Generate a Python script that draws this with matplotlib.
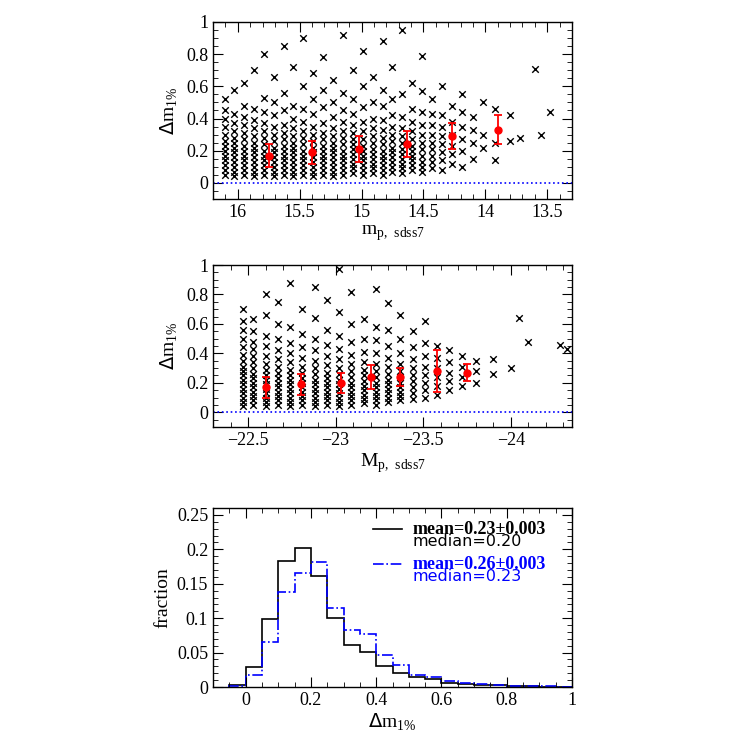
import numpy as np
import matplotlib
matplotlib.use("Agg")
import matplotlib.pyplot as plt
from matplotlib.ticker import MultipleLocator

plt.rcParams['font.family'] = ['Liberation Serif', 'DejaVu Serif']

# ---- panel 1 scatter: apparent magnitude vs dm (columns of x with y values)
app_cols = {
16.10: "0.05 0.08 0.11 0.14 0.17 0.20 0.23 0.26 0.30 0.35 0.40 0.45 0.52",
16.03: "0.04 0.07 0.10 0.13 0.16 0.19 0.22 0.25 0.28 0.32 0.37 0.43 0.58",
15.95: "0.05 0.08 0.11 0.14 0.17 0.20 0.23 0.27 0.31 0.36 0.41 0.48 0.62",
15.87: "0.04 0.07 0.10 0.13 0.16 0.19 0.22 0.25 0.29 0.34 0.39 0.46 0.70",
15.79: "0.05 0.08 0.11 0.14 0.17 0.20 0.24 0.28 0.32 0.37 0.44 0.53 0.80",
15.71: "0.04 0.07 0.10 0.13 0.16 0.19 0.22 0.26 0.30 0.35 0.42 0.50 0.66",
15.63: "0.05 0.08 0.11 0.14 0.17 0.20 0.23 0.27 0.31 0.36 0.45 0.56 0.85",
15.55: "0.04 0.07 0.10 0.13 0.16 0.19 0.22 0.25 0.29 0.34 0.40 0.48 0.72",
15.47: "0.05 0.08 0.11 0.14 0.17 0.20 0.24 0.28 0.32 0.38 0.46 0.60 0.90",
15.39: "0.04 0.07 0.10 0.13 0.16 0.19 0.22 0.26 0.30 0.35 0.43 0.52 0.68",
15.31: "0.05 0.08 0.11 0.14 0.17 0.20 0.23 0.27 0.31 0.37 0.47 0.58 0.78",
15.23: "0.04 0.07 0.10 0.13 0.16 0.19 0.22 0.25 0.29 0.34 0.41 0.50 0.64",
15.15: "0.05 0.08 0.11 0.14 0.17 0.20 0.24 0.28 0.32 0.38 0.45 0.56 0.92",
15.07: "0.06 0.09 0.12 0.15 0.18 0.21 0.24 0.27 0.31 0.36 0.43 0.52 0.70",
14.99: "0.05 0.08 0.11 0.14 0.17 0.20 0.23 0.27 0.32 0.38 0.47 0.60 0.82",
14.91: "0.06 0.09 0.12 0.15 0.18 0.21 0.25 0.29 0.34 0.40 0.50 0.66",
14.83: "0.05 0.08 0.11 0.14 0.17 0.20 0.24 0.28 0.33 0.39 0.48 0.58 0.88",
14.75: "0.07 0.10 0.13 0.16 0.19 0.22 0.26 0.30 0.35 0.42 0.52 0.72",
14.67: "0.06 0.09 0.12 0.15 0.18 0.21 0.25 0.29 0.34 0.41 0.55 0.95",
14.59: "0.08 0.11 0.14 0.17 0.20 0.23 0.27 0.32 0.38 0.46 0.62",
14.51: "0.07 0.10 0.13 0.17 0.21 0.25 0.30 0.36 0.44 0.57 0.79",
14.43: "0.09 0.13 0.17 0.21 0.25 0.30 0.36 0.43 0.52",
14.35: "0.08 0.14 0.19 0.24 0.29 0.35 0.42 0.60",
14.27: "0.12 0.18 0.23 0.30 0.38 0.48",
14.19: "0.10 0.20 0.27 0.35 0.44 0.55",
14.10: "0.15 0.25 0.33 0.41",
14.02: "0.22 0.30 0.50",
13.92: "0.14 0.25 0.46",
13.80: "0.26 0.42",
13.72: "0.28",
13.55: "0.30",
13.48: "0.44",
13.60: "0.71",
}
app_x = [x for x, s in app_cols.items() for _ in s.split()]
app_y = [float(v) for s in app_cols.values() for v in s.split()]

app_bin_x = [15.75, 15.4, 15.02, 14.63, 14.27, 13.9]
app_bin_y = [0.17, 0.19, 0.21, 0.24, 0.29, 0.33]
app_bin_e = [0.07, 0.07, 0.08, 0.08, 0.08, 0.09]

# ---- panel 2 scatter: absolute magnitude vs dm
abs_cols = {
-22.47: "0.04 0.07 0.10 0.13 0.16 0.19 0.22 0.25 0.28 0.31 0.35 0.39 0.44 0.50 0.56 0.62 0.70",
-22.53: "0.05 0.08 0.11 0.14 0.17 0.20 0.23 0.26 0.30 0.34 0.38 0.43 0.48 0.55 0.63",
-22.60: "0.04 0.07 0.10 0.13 0.16 0.19 0.22 0.25 0.29 0.33 0.38 0.45 0.52 0.66 0.80",
-22.67: "0.05 0.08 0.11 0.14 0.17 0.20 0.23 0.27 0.31 0.36 0.42 0.50 0.60 0.75",
-22.74: "0.04 0.07 0.10 0.13 0.16 0.19 0.22 0.25 0.29 0.34 0.40 0.47 0.58 0.88",
-22.81: "0.05 0.08 0.11 0.14 0.17 0.20 0.23 0.27 0.31 0.37 0.44 0.53 0.70",
-22.88: "0.04 0.07 0.10 0.13 0.16 0.19 0.22 0.26 0.30 0.35 0.42 0.50 0.64 0.85",
-22.95: "0.05 0.08 0.11 0.14 0.17 0.20 0.23 0.27 0.32 0.38 0.46 0.56 0.76",
-23.02: "0.04 0.07 0.10 0.13 0.16 0.19 0.22 0.26 0.30 0.36 0.43 0.52 0.68 0.97",
-23.09: "0.05 0.08 0.11 0.14 0.17 0.20 0.24 0.28 0.33 0.39 0.48 0.60 0.82",
-23.16: "0.06 0.09 0.12 0.15 0.18 0.21 0.25 0.29 0.34 0.41 0.50 0.63",
-23.23: "0.05 0.08 0.11 0.14 0.17 0.20 0.24 0.28 0.33 0.40 0.49 0.58 0.84",
-23.30: "0.07 0.10 0.13 0.16 0.19 0.22 0.26 0.31 0.37 0.45 0.56 0.74",
-23.37: "0.08 0.11 0.14 0.17 0.20 0.24 0.28 0.33 0.40 0.50 0.66",
-23.44: "0.09 0.13 0.17 0.21 0.25 0.30 0.36 0.44 0.55",
-23.51: "0.10 0.15 0.20 0.25 0.31 0.38 0.47 0.62",
-23.58: "0.12 0.18 0.24 0.30 0.37 0.45",
-23.65: "0.15 0.21 0.27 0.34 0.42",
-23.72: "0.18 0.24 0.31 0.38",
-23.80: "0.20 0.28 0.35",
-23.90: "0.26 0.36",
-24.00: "0.30",
-24.05: "0.64",
-24.10: "0.48",
-24.28: "0.46",
-24.32: "0.43",
}
abs_x = [x for x, s in abs_cols.items() for _ in s.split()]
abs_y = [float(v) for s in abs_cols.values() for v in s.split()]

abs_bin_x = [-22.6, -22.8, -23.03, -23.2, -23.37, -23.58, -23.75]
abs_bin_y = [0.17, 0.19, 0.20, 0.24, 0.24, 0.28, 0.27]
abs_bin_e = [0.07, 0.07, 0.07, 0.08, 0.06, 0.14, 0.06]

# ---- panel 3 histograms (bin width 0.05 from -0.05)
bin_edges = [round(-0.05 + 0.05 * i, 2) for i in range(22)]
frac_black = [0.003, 0.029, 0.099, 0.183, 0.202, 0.161, 0.100, 0.061, 0.051, 0.031, 0.021,
              0.015, 0.011, 0.006, 0.004, 0.0025, 0.0025, 0.001, 0.001, 0.0005, 0.0005]
frac_blue = [0.001, 0.018, 0.066, 0.138, 0.166, 0.181, 0.115, 0.083, 0.077, 0.046, 0.032,
             0.017, 0.015, 0.008, 0.006, 0.004, 0.003, 0.002, 0.001, 0.001, 0.0005]

W = H = 747
fig = plt.figure(figsize=(W / 100, H / 100), dpi=100)

def ax_at(l, t, r, b):
    return fig.add_axes([l / W, 1 - b / H, (r - l) / W, (b - t) / H])

def style(ax):
    ax.tick_params(which='both', direction='in', top=True, right=True, labelsize=13)
    ax.tick_params(which='major', length=7)
    ax.tick_params(which='minor', length=3.5)
    for s in ax.spines.values():
        s.set_linewidth(1)

ax1 = ax_at(213, 22, 572, 199)
ax1.scatter(app_x, app_y, marker='x', s=22, c='k', lw=1.0)
ax1.errorbar(app_bin_x, app_bin_y, yerr=app_bin_e, fmt='o', color='red', ms=5, capsize=3, elinewidth=1.3, capthick=1.3)
ax1.axhline(0, color='blue', ls=':', lw=1.2)
ax1.set_xlim(16.2, 13.3)
ax1.set_ylim(-0.1, 1.0)
ax1.xaxis.set_minor_locator(MultipleLocator(0.1))
ax1.yaxis.set_minor_locator(MultipleLocator(0.05))
ax1.set_xticks([16, 15.5, 15, 14.5, 14, 13.5])
ax1.set_xticklabels(['16', '15.5', '15', '14.5', '14', '13.5'])
ax1.set_yticks([0, 0.2, 0.4, 0.6, 0.8, 1])
ax1.set_yticklabels(['0', '0.2', '0.4', '0.6', '0.8', '1'])
ax1.set_xlabel(r'm$_{\mathregular{p,\ sdss7}}$', fontsize=14, labelpad=2)
ax1.set_ylabel(r'$\Delta$m$_{\mathregular{1\%}}$', fontsize=14)
style(ax1)

ax2 = ax_at(213, 265, 572, 427)
ax2.scatter(abs_x, abs_y, marker='x', s=22, c='k', lw=1.0)
ax2.errorbar(abs_bin_x, abs_bin_y, yerr=abs_bin_e, fmt='o', color='red', ms=5, capsize=3, elinewidth=1.3, capthick=1.3)
ax2.axhline(0, color='blue', ls=':', lw=1.2)
ax2.set_xlim(-22.3, -24.35)
ax2.set_ylim(-0.1, 1.0)
ax2.set_xticks([-22.5, -23, -23.5, -24])
ax2.set_xticklabels(['\u221222.5', '\u221223', '\u221223.5', '\u221224'])
ax2.xaxis.set_minor_locator(MultipleLocator(0.1))
ax2.set_yticks([0, 0.2, 0.4, 0.6, 0.8, 1])
ax2.set_yticklabels(['0', '0.2', '0.4', '0.6', '0.8', '1'])
ax2.yaxis.set_minor_locator(MultipleLocator(0.05))
ax2.set_xlabel(r'M$_{\mathregular{p,\ sdss7}}$', fontsize=14, labelpad=2)
ax2.set_ylabel(r'$\Delta$m$_{\mathregular{1\%}}$', fontsize=14)
style(ax2)

ax3 = ax_at(213, 508, 572, 687)
ax3.stairs(frac_black, bin_edges, color='k', lw=1.2)
ax3.stairs(frac_blue, bin_edges, color='blue', lw=1.2, ls='-.')
ax3.set_xlim(-0.1, 1.0)
ax3.set_ylim(0, 0.26)
ax3.set_xticks([0, 0.2, 0.4, 0.6, 0.8, 1])
ax3.set_xticklabels(['0', '0.2', '0.4', '0.6', '0.8', '1'])
ax3.xaxis.set_minor_locator(MultipleLocator(0.05))
ax3.set_yticks([0, 0.05, 0.1, 0.15, 0.2, 0.25])
ax3.set_yticklabels(['0', '0.05', '0.1', '0.15', '0.2', '0.25'])
ax3.yaxis.set_minor_locator(MultipleLocator(0.01))
ax3.set_xlabel(r'$\Delta$m$_{\mathregular{1\%}}$', fontsize=14, labelpad=2)
ax3.set_ylabel('fraction', fontsize=14)
style(ax3)

ax3.plot([0.39, 0.48], [0.229, 0.229], color='k', lw=1.2)
ax3.text(0.51, 0.229, 'mean=0.23\u00b10.003', fontsize=13, fontweight='bold', va='center')
ax3.text(0.51, 0.211, 'median=0.20', fontsize=11.5, family='DejaVu Sans', va='center')
ax3.plot([0.39, 0.48], [0.178, 0.178], color='blue', lw=1.2, ls='-.')
ax3.text(0.51, 0.178, 'mean=0.26\u00b10.003', fontsize=13, fontweight='bold', color='blue', va='center')
ax3.text(0.51, 0.160, 'median=0.23', fontsize=11.5, family='DejaVu Sans', color='blue', va='center')

fig.savefig('out.png', dpi=100)
